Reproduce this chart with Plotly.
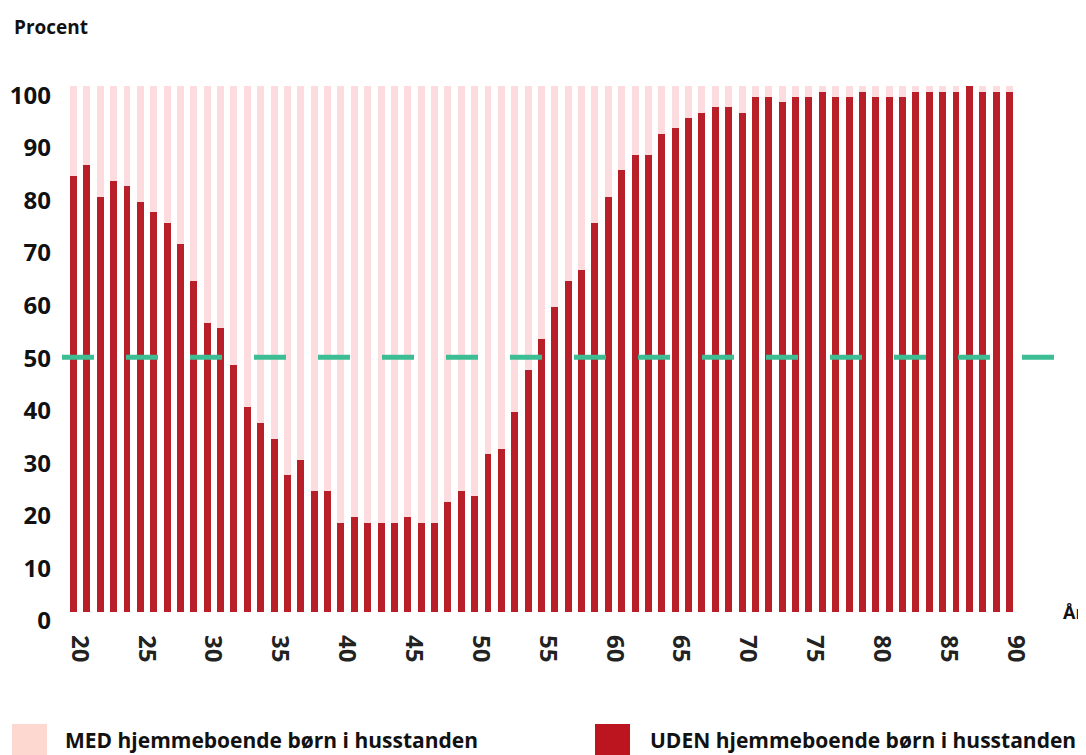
import plotly.graph_objects as go

ages = list(range(20, 91))

uden = [83, 85, 79, 82, 81, 78, 76, 74, 70, 63,
        55, 54, 47, 39, 36, 33, 26, 29, 23, 23,
        17, 18, 17, 17, 17, 18, 17, 17, 21, 23,
        22, 30, 31, 38, 46, 52, 58, 63, 65, 74,
        79, 84, 87, 87, 91, 92, 94, 95, 96, 96,
        95, 98, 98, 97, 98, 98, 99, 98, 98, 99,
        98, 98, 98, 99, 99, 99, 99, 100, 99, 99,
        99]

med = [17, 15, 21, 18, 19, 22, 24, 26, 30, 37,
       45, 46, 53, 61, 64, 67, 74, 71, 77, 77,
       83, 82, 83, 83, 83, 82, 83, 83, 79, 77,
       78, 70, 69, 62, 54, 48, 42, 37, 35, 26,
       21, 16, 13, 13, 9, 8, 6, 5, 4, 4,
       5, 2, 2, 3, 2, 2, 1, 2, 2, 1,
       2, 2, 2, 1, 1, 1, 1, 0, 1, 1,
       1]

y_ticks = [0, 10, 20, 30, 40, 50, 60, 70, 80, 90, 100]
x_ticks = [20, 25, 30, 35, 40, 45, 50, 55, 60, 65, 70, 75, 80, 85, 90]
ref_line = 50

name_med = "MED hjemmeboende børn i husstanden"
name_uden = "UDEN hjemmeboende børn i husstanden"

DARK = "#b91f28"
LIGHT = "#fcdcdf"
FONT = "Open Sans"

# figure coordinates (page is offset by the 8px body margin)
W, H = 1078, 747
L, R, T, B = 54, 32, 72, 143
PW = W - L - R   # 992
PH = H - T - B   # 532

def px(x):
    return (x - L) / PW

def py(y):
    return (H - B - y) / PH

fig = go.Figure()
fig.add_trace(go.Bar(x=ages, y=uden, name=name_uden, marker=dict(color=DARK, line=dict(width=0))))
fig.add_trace(go.Bar(x=ages, y=med, name=name_med, marker=dict(color=LIGHT, line=dict(width=0))))

x_lo, x_hi = 19.14, 93.33

fig.update_layout(
    width=W, height=H, autosize=False,
    margin=dict(l=L, r=R, t=T, b=B, autoexpand=False),
    barmode="stack", bargap=0.48,
    plot_bgcolor="white", paper_bgcolor="white",
    showlegend=False,
    font=dict(family=FONT, color="#111111"),
    xaxis=dict(range=[x_lo, x_hi], tickvals=x_ticks, tickangle=90,
               showgrid=False, zeroline=False, showline=False, ticks="",
               ticklabelstandoff=22, ticklabelshift=6,
               tickfont=dict(family=FONT, size=24, weight=700, color="#222222")),
    yaxis=dict(range=[0, 101.2], tickvals=y_ticks,
               showgrid=False, zeroline=False, showline=False, ticks="",
               ticklabelstandoff=10, ticklabelshift=9,
               tickfont=dict(family=FONT, size=24, weight=700, color="#111111")),
)

fig.add_shape(type="line", xref="x", yref="y", x0=x_lo, x1=x_hi,
              yanchor=ref_line, ysizemode="pixel", y0=-8, y1=-8,
              line=dict(color="#3dbd93", width=5, dash="32px,32px"), layer="above")

fig.add_annotation(text="Procent", xref="paper", yref="paper", x=px(4), y=py(19),
                   xanchor="left", yanchor="middle", showarrow=False,
                   font=dict(family=FONT, size=19, weight=700, color="#111111"))
fig.add_annotation(text="År", xref="paper", yref="paper", x=px(1053), y=py(604),
                   xanchor="left", yanchor="middle", showarrow=False,
                   font=dict(family=FONT, size=18, weight=700, color="#111111"))

# Legend (custom large swatches)
fig.add_shape(type="rect", xref="paper", yref="paper",
              x0=px(4), x1=px(39), y0=py(716), y1=py(752),
              fillcolor="#fdd8d0", line=dict(width=0))
fig.add_shape(type="rect", xref="paper", yref="paper",
              x0=px(587), x1=px(622), y0=py(716), y1=py(752),
              fillcolor="#bc1520", line=dict(width=0))
fig.add_annotation(text=name_med, xref="paper", yref="paper",
                   x=px(55), y=py(732),
                   xanchor="left", yanchor="middle", showarrow=False,
                   font=dict(family=FONT, size=21, weight=700, color="#111111"))
fig.add_annotation(text=name_uden, xref="paper", yref="paper",
                   x=px(640), y=py(732),
                   xanchor="left", yanchor="middle", showarrow=False,
                   font=dict(family=FONT, size=21, weight=700, color="#111111"))

fig.write_html(
    "out.html",
    post_script="document.documentElement.style.overflow='hidden';document.body.style.overflow='hidden';",
)
